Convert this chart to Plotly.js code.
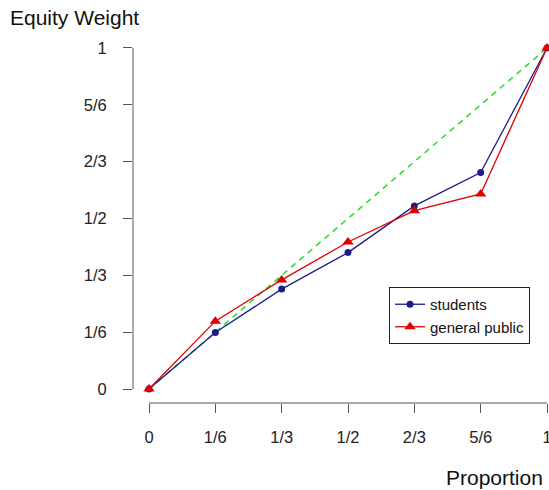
<!DOCTYPE html>
<html><head><meta charset="utf-8">
<script src="https://cdn.plot.ly/plotly-3.0.1.min.js"></script>
<style>html,body{margin:0;padding:0;background:#fff}</style>
</head><body><div id="chart" style="width:549px;height:490px"></div>
<script>
var proportion = [0, 1/6, 1/3, 1/2, 2/3, 5/6, 1];
var tickLabels = ['0', '1/6', '1/3', '1/2', '2/3', '5/6', '1'];
var students = [0, 0.166, 0.293, 0.400, 0.537, 0.635, 1];
var generalPublic = [0, 0.199, 0.320, 0.431, 0.523, 0.572, 1];
var diagonalX = [0, 1];
var diagonalY = [0, 1];

var traces = [
  {x: diagonalX, y: diagonalY, mode: 'lines', showlegend: false, hoverinfo: 'skip',
   line: {color: '#33dd33', width: 1.6, dash: '6px,5px'}, cliponaxis: false},
  {x: proportion, y: students, name: 'students', mode: 'lines+markers', cliponaxis: false,
   line: {color: '#1c1c8f', width: 1.3}, marker: {symbol: 'circle', size: 7, color: '#1c1c8f'}},
  {x: proportion, y: generalPublic, name: 'general public', mode: 'lines+markers', cliponaxis: false,
   line: {color: '#e00000', width: 1.3}, marker: {symbol: 'triangle-up', size: 10, color: '#e00000'}}
];

var fontFam = 'Liberation Sans, Arial, sans-serif';
var layout = {
  width: 549, height: 490,
  margin: {l: 133, r: 0, t: 34, b: 87},
  paper_bgcolor: '#fff', plot_bgcolor: '#fff',
  showlegend: true,
  xaxis: {range: [-0.0402, 1.005], tickvals: proportion, ticktext: tickLabels,
    showgrid: false, zeroline: false, showline: false, ticks: 'outside', ticklen: 9,
    tickcolor: '#555', tickwidth: 1, tickfont: {family: fontFam, size: 16.5, color: '#222'},
    ticklabelstandoff: 10, ticklabeloverflow: 'allow'},
  yaxis: {range: [-0.041, 1.041], tickvals: proportion, ticktext: tickLabels,
    showgrid: false, zeroline: false, showline: false, ticks: 'outside', ticklen: 9,
    tickcolor: '#555', tickwidth: 1, tickfont: {family: fontFam, size: 16.5, color: '#222'}, ticklabelstandoff: 13},
  shapes: [
    {type: 'line', xref: 'x', yref: 'paper', x0: 0, x1: 1, y0: 0, y1: 0, line: {color: '#555', width: 1}},
    {type: 'line', xref: 'paper', yref: 'y', x0: 0, x1: 0, y0: 0, y1: 1, line: {color: '#555', width: 1}}
  ],
  annotations: [
    {text: 'Equity Weight', xref: 'paper', yref: 'paper', x: -125/416, y: 1 + 16/369, xanchor: 'left', yanchor: 'middle',
     showarrow: false, font: {family: fontFam, size: 21, color: '#111'}},
    {text: 'Proportion', xref: 'paper', yref: 'paper', x: 1 - 4/416, y: -75/369, xanchor: 'right', yanchor: 'middle',
     showarrow: false, font: {family: fontFam, size: 21, color: '#111'}}
  ],
  legend: {x: (389-133)/416, y: (403-287)/369, xanchor: 'left', yanchor: 'top',
    bordercolor: '#222', borderwidth: 1, bgcolor: '#fff', itemwidth: 30,
    font: {family: fontFam, size: 15, color: '#111'}, tracegroupgap: 0}
};
Plotly.newPlot('chart', traces, layout, {displayModeBar: false});
</script></body></html>
